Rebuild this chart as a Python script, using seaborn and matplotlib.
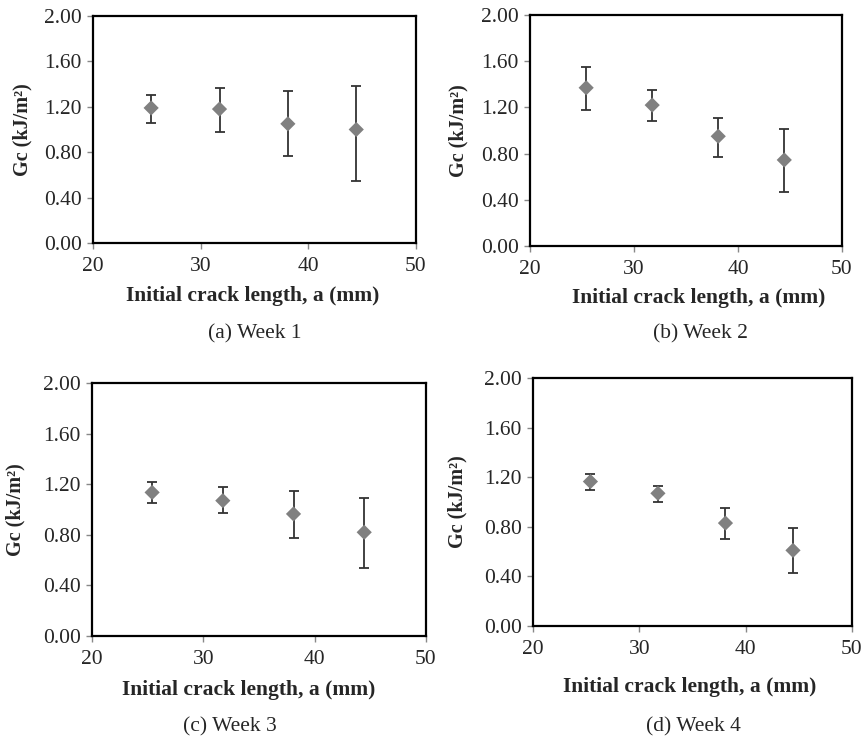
import numpy as np
import pandas as pd
import matplotlib.pyplot as plt
import seaborn as sns

# initial crack length (mm) and Gc (kJ/m^2) per week
crack_len = [25.4, 31.75, 38.1, 44.45]

gc_week1 = [1.19, 1.18, 1.05, 1.00]
lo_week1 = [1.06, 0.98, 0.77, 0.55]
hi_week1 = [1.30, 1.37, 1.34, 1.38]

gc_week2 = [1.37, 1.22, 0.95, 0.745]
lo_week2 = [1.18, 1.08, 0.77, 0.47]
hi_week2 = [1.55, 1.35, 1.11, 1.01]

gc_week3 = [1.135, 1.07, 0.965, 0.82]
lo_week3 = [1.05, 0.975, 0.775, 0.54]
hi_week3 = [1.215, 1.175, 1.15, 1.09]

gc_week4 = [1.165, 1.07, 0.83, 0.61]
lo_week4 = [1.10, 1.00, 0.70, 0.425]
hi_week4 = [1.225, 1.13, 0.95, 0.79]

captions = ["(a) Week 1", "(b) Week 2", "(c) Week 3", "(d) Week 4"]
weeks = [(gc_week1, lo_week1, hi_week1), (gc_week2, lo_week2, hi_week2),
         (gc_week3, lo_week3, hi_week3), (gc_week4, lo_week4, hi_week4)]

sns.set_style("white")
plt.rcParams["font.family"] = ["Liberation Serif", "DejaVu Serif"]

W, H = 864, 743
fig = plt.figure(figsize=(W / 100, H / 100), dpi=100)

# axes boxes in pixels: left, top, right, bottom
boxes = [(93, 16, 416, 243), (530, 15, 842, 246),
         (92, 383, 426, 636), (533, 378, 852, 626)]
# (xlabel centre, ylabel centre x, caption centre) in pixels
labels_px = [((253, 296), 22, (255, 334)),
             ((699, 298), 458, (700, 334)),
             ((249, 690), 15, (230, 727)),
             ((690, 687), 457, (693, 727))]

for i, ((gc, lo, hi), box, lab) in enumerate(zip(weeks, boxes, labels_px)):
    l, t, r, b = box
    ax = fig.add_axes([l / W, 1 - b / H, (r - l) / W, (b - t) / H])
    df = pd.DataFrame({"a": crack_len, "gc": gc})
    yerr = [np.array(gc) - np.array(lo), np.array(hi) - np.array(gc)]
    ax.errorbar(crack_len, gc, yerr=yerr, fmt="none", ecolor="#333333",
                elinewidth=1.3, capsize=3.5, capthick=1.3, zorder=2)
    sns.scatterplot(data=df, x="a", y="gc", marker="D", s=60, color="#808080",
                    edgecolor="none", ax=ax, zorder=3)
    ax.set_xlim(20, 50)
    ax.set_ylim(0, 2.0)
    ax.set_xticks([20, 30, 40, 50])
    ax.set_yticks([0, 0.4, 0.8, 1.2, 1.6, 2.0])
    ax.set_yticklabels(["%.2f" % v for v in [0, 0.4, 0.8, 1.2, 1.6, 2.0]])
    for s in ax.spines.values():
        s.set_color("black")
        s.set_linewidth(1.6)
    ax.tick_params(axis="both", direction="out", length=4, width=1,
                   color="#888888", labelsize=15.5, bottom=True, left=True)
    ax.tick_params(axis="y", pad=4)
    ax.tick_params(axis="x", pad=6)
    ax.set_xlabel("Initial crack length, a (mm)", fontsize=15.5, fontweight="bold")
    ax.set_ylabel("Gc (kJ/m²)", fontsize=14.5, fontweight="bold")
    (xlx, xly), ylx, (cx, cy) = lab
    ax.xaxis.set_label_coords(xlx / W, 1 - xly / H, transform=fig.transFigure)
    ax.xaxis.label.set_va("center")
    ax.yaxis.set_label_coords(ylx / W, 1 - ((t + b) / 2) / H, transform=fig.transFigure)
    ax.yaxis.label.set_va("center")
    fig.text(cx / W, 1 - cy / H, captions[i], fontsize=15.5, ha="center", va="center")

fig.savefig("out.png", dpi=100, facecolor="white")
